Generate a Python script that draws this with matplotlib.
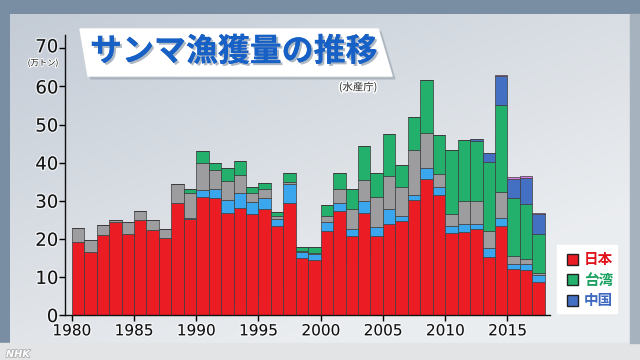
#!/usr/bin/env python3
"""サンマ漁獲量の推移 — stacked bars by country, 1980-2017."""
import numpy as np
import matplotlib
matplotlib.use('Agg')
import matplotlib.pyplot as plt
from matplotlib.patches import Polygon, Rectangle
from matplotlib.transforms import ScaledTranslation
import matplotlib.patheffects as pe

plt.rcParams['font.family'] = ['Noto Sans CJK JP', 'DejaVu Sans']

# --- data (万トン) ---
years = list(range(1980, 2018))
japan = [19.2, 16.5, 21.0, 24.5, 21.3, 24.9, 22.3, 20.3, 29.5, 25.2,
         31.0, 30.8, 26.9, 28.2, 26.5, 27.7, 23.4, 29.5, 15.0, 14.4,
         22.0, 27.3, 20.8, 26.9, 20.8, 23.8, 24.8, 30.2, 35.6, 31.5,
         21.4, 21.9, 22.6, 15.3, 23.4, 12.0, 11.8, 8.7]
korea = [0, 0, 0, 0, 0, 0, 0, 0, 0, 0.3,
         1.8, 2.3, 3.3, 3.9, 3.1, 2.9, 1.7, 4.8, 1.5, 1.6,
         2.3, 2.2, 1.9, 3.0, 2.2, 3.9, 1.3, 1.4, 3.1, 2.0,
         2.0, 1.9, 1.3, 2.2, 2.1, 1.3, 1.6, 1.8]
russia = [3.7, 3.2, 2.5, 0.5, 3.1, 2.5, 2.6, 2.2, 5.0, 6.4,
          7.2, 5.0, 4.9, 4.6, 2.5, 2.6, 1.0, 0.7, 0.3, 0.3,
          1.8, 3.7, 5.1, 5.5, 8.1, 8.8, 7.4, 11.7, 9.2, 3.5,
          3.1, 6.1, 6.0, 4.5, 6.9, 2.2, 1.3, 0.4]
taiwan = [0, 0, 0, 0, 0, 0, 0, 0, 0, 1.3,
          3.0, 1.7, 3.4, 3.7, 1.4, 1.4, 0.9, 2.2, 1.1, 1.6,
          2.8, 4.0, 5.2, 9.0, 6.1, 11.0, 6.0, 8.7, 13.8, 10.2,
          16.8, 16.0, 15.9, 18.1, 22.7, 15.1, 14.4, 10.4]
china = [0] * 32 + [0.3, 2.3, 7.6, 5.0, 6.8, 5.1]
vanuatu = [0] * 34 + [0.3, 0.5, 0.6, 0.3]

series = [japan, korea, russia, taiwan, china, vanuatu]
colors = ['#ec1c24', '#3aa6ee', '#9d9d9f', '#22b06c', '#4470c4', '#d67ee0']

legend_names = ['日本', '台湾', '中国']
legend_colors = ['#ec1c24', '#22b06c', '#4470c4']
text_colors = ['#e0121c', '#1aa060', '#3c68c0']

W, H = 640, 360
fig = plt.figure(figsize=(W / 100, H / 100), dpi=100)
fig.patch.set_facecolor('#7a8ea3')

def fx(x):
    return x / W

def fy(y):
    return 1 - y / H

# background panel with a soft gradient
bg = fig.add_axes([0, 0, 1, 1], zorder=-10)
bg.set_axis_off()
bg.set_xlim(0, W)
bg.set_ylim(H, 0)
gx, gy = np.meshgrid(np.linspace(0, 1, 64), np.linspace(0, 1, 36))
t = np.clip(0.55 * gx + 0.75 * gy, 0, 1)
c0 = np.array([0.77, 0.80, 0.84])
c1 = np.array([0.92, 0.93, 0.94])
img = c0[None, None, :] * (1 - t[..., None]) + c1[None, None, :] * t[..., None]
bg.imshow(img, extent=[10, 630, 343, 14], aspect='auto', interpolation='bicubic')
bg.add_patch(Rectangle((0, 343), W, 17, color='#e3e4e5'))
bg.add_patch(Rectangle((630, 14), 10, 329, color='#a6b2be'))
bg.text(6, 354, 'NHK', fontsize=7, color='white', style='italic', fontweight='bold',
        va='center', ha='left', family='DejaVu Sans',
        path_effects=[pe.withStroke(linewidth=1.2, foreground='#b0b0b0')])

# title banner
bg.add_patch(Polygon([(83, 32), (381, 32), (395, 79), (91, 79)], closed=True,
                     color='#9aa4ae', alpha=0.5))
bg.add_patch(Polygon([(80, 29), (378, 29), (392, 76), (88, 76)], closed=True,
                     color='white'))
bg.text(234, 52, 'サンマ漁獲量の推移', fontsize=23, fontweight='bold', color='#1660c6',
        ha='center', va='center',
        path_effects=[pe.withSimplePatchShadow(offset=(1.5, -1.5), shadow_rgbFace='#9aa6b4', alpha=0.8),
                      pe.Normal()])
bg.text(358, 87, '(水産庁)', fontsize=7.5, color='#222222', ha='center', va='center',
        path_effects=[pe.withStroke(linewidth=2, foreground='white')])

# --- main chart ---
ax = fig.add_axes([fx(65), fy(315), fx(550) - fx(65), fy(35) - fy(315)])
ax.set_facecolor('none')

bottom = np.zeros(len(years))
for vals, c in zip(series, colors):
    vals = np.array(vals, dtype=float)
    ax.bar(years, vals, width=1.0, align='edge', bottom=bottom, color=c,
           edgecolor='#3c3c3c', linewidth=0.5)
    bottom += vals

ax.set_xlim(1979.46, 2018.42)
ax.set_ylim(0, 73.5)
ax.set_yticks(range(0, 71, 10))
ax.set_xticks(range(1980, 2016, 5))
for s in ['top', 'right']:
    ax.spines[s].set_visible(False)
for s in ['left', 'bottom']:
    ax.spines[s].set_color('#111111')
    ax.spines[s].set_linewidth(1.0)
ax.tick_params(axis='y', direction='out', length=4, width=1, labelsize=13, pad=1)
ax.tick_params(axis='x', direction='out', length=4, width=1, labelsize=11, pad=2)
for lab in ax.get_yticklabels() + ax.get_xticklabels():
    lab.set_family('DejaVu Sans')
    lab.set_color('#111111')
    lab.set_path_effects([pe.withStroke(linewidth=2, foreground='white', alpha=0.6)])

# the top label sits a little higher, leaving room for the unit
top_lab = ax.get_yticklabels()[-1]
top_lab.set_transform(top_lab.get_transform() + ScaledTranslation(0, 3 / 100, fig.dpi_scale_trans))
bg.text(43, 63, '(万トン)', fontsize=6, color='#111111', ha='center', va='center',
        path_effects=[pe.withStroke(linewidth=1.5, foreground='white')])

# legend box (only three entries are listed)
bg.add_patch(Rectangle((557, 245), 60, 68, color='white'))
for i, (name, c, tc) in enumerate(zip(legend_names, legend_colors, text_colors)):
    yc = 259 + i * 20.5
    bg.add_patch(Rectangle((567, yc - 5.5), 11, 11, facecolor=c, edgecolor='#202020', linewidth=1))
    bg.text(584, yc, name, fontsize=10.5, fontweight='bold', color=tc, ha='left', va='center')

plt.savefig('out.png', dpi=100, facecolor=fig.get_facecolor())
plt.close()
print("✓ out.png")
